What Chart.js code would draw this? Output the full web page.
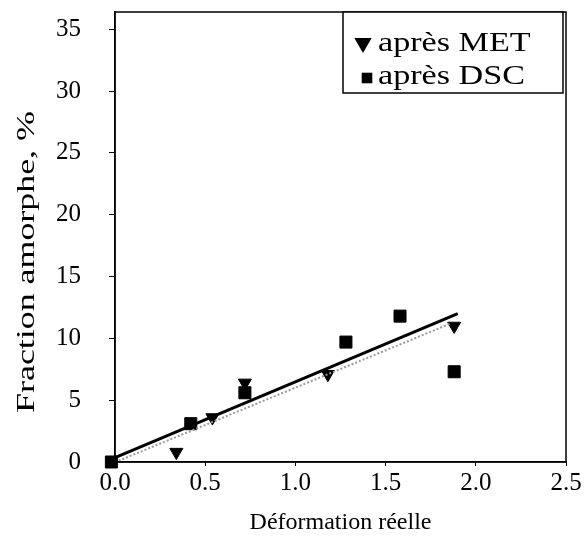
<!DOCTYPE html>
<html>
<head>
<meta charset="utf-8">
<script src="https://cdn.jsdelivr.net/npm/chart.js@4"></script>
<style>
  html, body { margin: 0; padding: 0; background: #fff; }
  #wrap { width: 586px; height: 545px; }
</style>
</head>
<body>
<div id="wrap"><canvas id="chart" width="586" height="545"></canvas></div>
<script>
// values
const metX = [0.34, 0.54, 0.72, 1.18, 1.88]
const metY = [0.8, 3.6, 6.4, 7.1, 11.0]
const dscX = [-0.02, 0.42, 0.72, 1.28, 1.58, 1.88]
const dscY = [0, 3.1, 5.6, 9.7, 11.8, 7.3]
const fitX = [0.0, 1.9]
const fitY = [0.35, 12.0]
const fit2X = [0.02, 1.86]
const fit2Y = [0.1, 11.2]
const xTicks = [0, 0.5, 1.0, 1.5, 2.0, 2.5]
const yTicks = [0, 5, 10, 15, 20, 25, 30, 35]

const serif = "'Liberation Serif', 'DejaVu Serif', serif"
const pts = (xs, ys) => xs.map((x, i) => ({ x, y: ys[i] }))

// text drawn a bit wider than the font, like the scanned figure
function stretchedText(ctx, text, x, y, sx, align) {
  ctx.save()
  ctx.translate(x, y)
  ctx.scale(sx, 1)
  ctx.textAlign = align
  ctx.fillText(text, 0, 0)
  ctx.restore()
}

// frame around the plot, legend box and rotated y title
const decor = {
  id: "decor",
  afterDraw(chart) {
    const { ctx, chartArea: a } = chart
    ctx.save()
    ctx.strokeStyle = "#000"
    ctx.lineWidth = 1.5
    ctx.strokeRect(a.left, a.top, a.right - a.left, a.bottom - a.top)

    // legend
    ctx.fillStyle = "#fff"
    ctx.fillRect(343, 12, 220, 81)
    ctx.strokeRect(343, 12, 220, 81)
    ctx.fillStyle = "#000"
    Chart.helpers.drawPoint(ctx, { pointStyle: "triangle", rotation: 180, radius: 10 }, 363, 43)
    Chart.helpers.drawPoint(ctx, { pointStyle: "rect", rotation: 0, radius: 7.5 }, 367, 78)
    ctx.font = "28px " + serif
    ctx.textBaseline = "middle"
    stretchedText(ctx, "après MET", 378, 44, 1.22, "left")
    stretchedText(ctx, "après DSC", 378, 77, 1.22, "left")

    // y title
    ctx.font = "26px " + serif
    ctx.translate(27, 262)
    ctx.rotate(-Math.PI / 2)
    stretchedText(ctx, "Fraction amorphe, %", 0, 0, 1.38, "center")
    ctx.restore()
  }
}

new Chart(document.getElementById("chart"), {
  type: "scatter",
  data: {
    datasets: [
      {
        label: "fit2",
        type: "line",
        data: pts(fit2X, fit2Y),
        borderColor: "#9a9a9a",
        borderWidth: 2,
        borderDash: [2, 2],
        pointRadius: 0,
        fill: false,
      },
      {
        label: "fit",
        type: "line",
        data: pts(fitX, fitY),
        borderColor: "#000",
        borderWidth: 3,
        pointRadius: 0,
        fill: false,
      },
      {
        label: "après MET",
        data: pts(metX, metY),
        pointStyle: "triangle",
        rotation: 180,
        pointRadius: 7.5,
        backgroundColor: "#000",
        borderColor: "#000",
        clip: false,
      },
      {
        label: "après DSC",
        data: pts(dscX, dscY),
        pointStyle: "rect",
        pointRadius: 8.5,
        backgroundColor: "#000",
        borderColor: "#000",
        clip: false,
      },
    ],
  },
  options: {
    responsive: false,
    animation: false,
    layout: { padding: { top: 12, right: 20, left: 0, bottom: 0 } },
    plugins: {
      legend: { display: false },
      tooltip: { enabled: false },
    },
    scales: {
      x: {
        type: "linear",
        min: 0,
        max: 2.5,
        afterFit: (s) => { s.height = 83; s.paddingLeft = 0; s.paddingRight = 0 },
        afterBuildTicks: (s) => { s.ticks = xTicks.map((v) => ({ value: v })) },
        ticks: {
          color: "#000",
          padding: 2,
          font: { size: 25, family: serif },
          callback: (v) => v.toFixed(1),
        },
        grid: { drawOnChartArea: false, tickLength: 4, color: "#000" },
        border: { color: "#000", width: 1.5 },
        title: {
          display: true,
          text: "Déformation réelle",
          color: "#000",
          font: { size: 24, family: serif },
          padding: { top: 0, bottom: 8 },
        },
      },
      y: {
        min: 0,
        max: 36.4,
        afterFit: (s) => { s.width = 115; s.paddingTop = 0; s.paddingBottom = 0 },
        afterBuildTicks: (s) => { s.ticks = yTicks.map((v) => ({ value: v })) },
        ticks: {
          color: "#000",
          padding: 28,
          font: { size: 25, family: serif },
        },
        grid: { drawOnChartArea: false, tickLength: 6, color: "#000" },
        border: { color: "#000", width: 1.5 },
      },
    },
  },
  plugins: [decor],
})
</script>
</body>
</html>
